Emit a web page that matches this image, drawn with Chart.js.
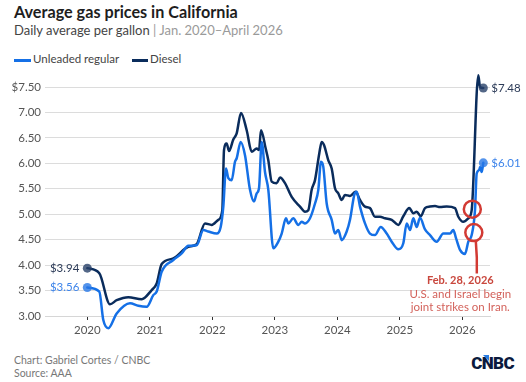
<!DOCTYPE html>
<html>
<head>
<meta charset="utf-8">
<script src="https://cdn.jsdelivr.net/npm/chart.js@4/dist/chart.umd.min.js"></script>
<style>
  html,body{margin:0;padding:0;background:#fff;}
  body{width:526px;height:382px;position:relative;overflow:hidden;font-family:Lato,"Open Sans",sans-serif;}
  #title{position:absolute;left:14px;top:2px;font-weight:700;font-size:16.2px;color:#1e1e1e;white-space:nowrap;}
  #subtitle{position:absolute;left:14px;top:22px;font-size:13px;color:#444;white-space:nowrap;}
  #subtitle span{color:#9a9a9a;}
  .lg-line{position:absolute;top:58.5px;height:3px;}
  .lg-text{position:absolute;top:52px;font-size:11.5px;color:#444;white-space:nowrap;}
  .foot{position:absolute;left:14px;font-size:10.5px;color:#777;white-space:nowrap;}
  #logo{position:absolute;right:12px;top:353px;font-family:Roboto,"Liberation Sans",sans-serif;font-weight:900;font-size:17px;letter-spacing:-0.6px;color:#0b1a3d;}
  #tri{position:absolute;left:483px;top:355px;width:0;height:0;border-top:6px solid #2a7de1;border-left:6px solid transparent;}
  canvas{position:absolute;left:0;top:0;}
</style>
</head>
<body>
<div id="title">Average gas prices in California</div>
<div id="subtitle">Daily average per gallon <span>| Jan. 2020–April 2026</span></div>
<div class="lg-line" style="left:14px;width:17px;background:#1570e6;"></div>
<div class="lg-text" style="left:33px;">Unleaded regular</div>
<div class="lg-line" style="left:132px;width:16px;background:#0a2c5c;"></div>
<div class="lg-text" style="left:150px;">Diesel</div>
<div class="foot" style="top:354px;">Chart: Gabriel Cortes / CNBC</div>
<div class="foot" style="top:367px;">Source: AAA</div>
<div id="logo">CNBC</div>
<div id="tri"></div>
<canvas id="c" width="526" height="382"></canvas>
<script>
// ---- data (dates as decimal years) ----
const unleadedDates = [2020.000,2020.192,2020.256,2020.336,2020.470,2020.683,2020.816,2020.950,2021.056,2021.110,2021.190,2021.376,2021.510,2021.616,2021.750,2021.856,2021.936,2022.070,2022.134,2022.176,2022.219,2022.256,2022.310,2022.363,2022.390,2022.454,2022.523,2022.603,2022.667,2022.710,2022.747,2022.790,2022.843,2022.896,2022.976,2023.056,2023.110,2023.179,2023.216,2023.296,2023.376,2023.430,2023.483,2023.563,2023.643,2023.696,2023.739,2023.776,2023.830,2023.910,2023.963,2024.016,2024.070,2024.150,2024.203,2024.272,2024.310,2024.363,2024.443,2024.523,2024.603,2024.694,2024.790,2024.870,2024.976,2025.056,2025.110,2025.163,2025.216,2025.270,2025.323,2025.403,2025.483,2025.590,2025.696,2025.803,2025.856,2025.899,2025.963,2026.043,2026.096,2026.150,2026.203,2026.230,2026.272,2026.283,2026.310,2026.336];
const unleadedPrices = [3.56,3.48,2.92,2.76,3.05,3.25,3.20,3.18,3.41,3.48,3.87,4.10,4.23,4.38,4.39,4.69,4.66,4.62,4.75,5.15,5.90,5.71,5.67,6.03,6.10,6.42,6.16,5.48,5.25,5.41,5.51,6.42,5.83,5.48,4.33,4.46,4.62,4.92,4.82,4.92,4.79,4.85,4.82,4.92,5.21,5.48,6.03,5.93,5.21,4.89,4.62,4.69,4.49,4.66,4.89,5.38,5.44,5.15,4.82,4.62,4.59,4.75,4.62,4.46,4.31,4.43,4.82,4.69,4.92,4.75,4.93,4.70,4.59,4.46,4.62,4.62,4.69,4.53,4.30,4.22,4.46,4.59,5.08,5.80,5.87,5.93,5.83,6.01];
const dieselDates = [2020.000,2020.192,2020.363,2020.470,2020.656,2020.870,2021.030,2021.110,2021.190,2021.376,2021.616,2021.750,2021.883,2021.990,2022.096,2022.160,2022.187,2022.230,2022.267,2022.336,2022.390,2022.459,2022.550,2022.630,2022.710,2022.747,2022.779,2022.856,2022.896,2022.950,2023.030,2023.083,2023.163,2023.270,2023.403,2023.483,2023.536,2023.590,2023.643,2023.712,2023.750,2023.787,2023.856,2023.910,2023.963,2024.016,2024.070,2024.123,2024.203,2024.294,2024.363,2024.443,2024.523,2024.603,2024.683,2024.763,2024.870,2024.976,2025.056,2025.152,2025.216,2025.270,2025.334,2025.403,2025.483,2025.563,2025.643,2025.750,2025.883,2025.936,2026.016,2026.096,2026.150,2026.256,2026.283,2026.336];
const dieselPrices = [3.94,3.84,3.23,3.31,3.37,3.33,3.51,3.64,4.02,4.13,4.36,4.41,4.82,4.79,4.89,5.08,6.26,6.39,6.24,6.47,6.59,6.99,6.65,6.23,6.29,6.26,6.65,6.28,6.06,5.64,5.61,5.72,5.61,5.34,5.15,5.05,5.08,5.48,5.67,6.20,6.42,6.36,6.06,5.90,5.51,5.41,5.28,5.38,5.36,5.44,5.28,5.15,5.12,4.95,4.95,4.92,4.89,4.79,4.96,5.12,5.02,5.05,4.96,5.12,5.15,5.16,5.14,5.15,5.12,4.95,4.85,4.92,5.08,7.73,7.50,7.48];
const yearTicks = [2020,2021,2022,2023,2024,2025,2026];
const priceTicks = [3,3.5,4,4.5,5,5.5,6,6.5,7,7.5];
const seriesNames = ["Unleaded regular","Diesel"];
const eventDate = 2026.16;
const eventValues = [5.10, 4.64];
const eventTitle = "Feb. 28, 2026";
const eventLines = ["U.S. and Israel begin","joint strikes on Iran."];

const BLUE = '#1570e6', NAVY = '#0a2c5c';

function pts(xs, ys){ return xs.map((x,i)=>({x:x,y:ys[i]})); }
function endRadii(n){ return Array.from({length:n},(_,i)=> (i===0||i===n-1)?4.5:0); }

const labelPlugin = {
  id:'labels',
  afterDatasetsDraw(chart){
    const ctx = chart.ctx;
    const xs = chart.scales.x, ys = chart.scales.y;
    ctx.save();
    const info = [
      {ds:0, color:'#3d84ea', vals:unleadedPrices},
      {ds:1, color:'#2b3a57', vals:dieselPrices}
    ];
    ctx.font = '11.5px Lato, "Open Sans", sans-serif';
    ctx.textBaseline = 'middle';
    info.forEach(o=>{
      const meta = chart.getDatasetMeta(o.ds);
      const first = meta.data[0], last = meta.data[meta.data.length-1];
      ctx.fillStyle = o.color;
      ctx.textAlign = 'right';
      ctx.fillText('$'+o.vals[0].toFixed(2), first.x-8, first.y);
      ctx.textAlign = 'left';
      ctx.fillText('$'+o.vals[o.vals.length-1].toFixed(2), last.x+8, last.y);
    });
    const ex = xs.getPixelForValue(eventDate);
    const c1 = ys.getPixelForValue(eventValues[0]);
    const c2 = ys.getPixelForValue(eventValues[1]);
    ctx.strokeStyle = '#d23a33';
    ctx.lineWidth = 2.5;
    ctx.beginPath(); ctx.arc(ex, c1, 8.5, 0, Math.PI*2); ctx.stroke();
    ctx.beginPath(); ctx.arc(ex+1.5, c2, 8.5, 0, Math.PI*2); ctx.stroke();
    ctx.beginPath();
    ctx.moveTo(ex+3.5, c2+8.5);
    ctx.quadraticCurveTo(ex+5, c2+25, ex+4.5, c2+41);
    ctx.stroke();
    ctx.textAlign = 'center';
    ctx.fillStyle = '#c9473d';
    ctx.font = 'bold 11px Lato, "Open Sans", sans-serif';
    ctx.fillText(eventTitle, ex-12, c2+48);
    ctx.fillStyle = '#d3625b';
    ctx.font = '11.5px Lato, "Open Sans", sans-serif';
    ctx.fillText(eventLines[0], ex-12, c2+61.5);
    ctx.fillText(eventLines[1], ex-12, c2+75);
    ctx.restore();
  }
};

new Chart(document.getElementById('c'), {
  type:'line',
  data:{
    datasets:[
      {label:seriesNames[0], data:pts(unleadedDates, unleadedPrices), borderColor:BLUE, borderWidth:2.5,
       pointRadius:endRadii(unleadedPrices.length), pointBackgroundColor:'rgba(40,120,230,0.8)', pointBorderWidth:0,
       cubicInterpolationMode:'monotone', clip:false},
      {label:seriesNames[1], data:pts(dieselDates, dieselPrices), borderColor:NAVY, borderWidth:2.5,
       pointRadius:endRadii(dieselPrices.length), pointBackgroundColor:'rgba(40,65,105,0.8)', pointBorderWidth:0,
       cubicInterpolationMode:'monotone', clip:false}
    ]
  },
  options:{
    responsive:false, animation:false, devicePixelRatio:1,
    layout:{padding:{left:0,top:87,right:36,bottom:42}},
    plugins:{legend:{display:false}, tooltip:{enabled:false}},
    elements:{line:{borderJoinStyle:'round', borderCapStyle:'round'}},
    scales:{
      x:{type:'linear', min:2019.323, max:2026.443,
         afterBuildTicks:s=>{s.ticks = yearTicks.map(v=>({value:v}));},
         afterFit:s=>{s.height=24;},
         ticks:{callback:v=>String(v), color:'#555', font:{family:'Lato, "Open Sans", sans-serif', size:11.5}, padding:3, maxRotation:0, autoSkip:false},
         grid:{drawOnChartArea:false, drawTicks:true, tickLength:4, tickColor:'#333', tickWidth:1},
         border:{display:true, color:'#d6d6d6', width:1}},
      y:{min:3, max:7.5,
         afterBuildTicks:s=>{s.ticks = priceTicks.map(v=>({value:v}));},
         afterFit:s=>{s.width=45;},
         ticks:{callback:v=> (v===7.5?'$7.50':v.toFixed(2)), color:'#555', font:{family:'Lato, "Open Sans", sans-serif', size:11.5}, padding:4},
         grid:{color:'#dcdcdc', drawTicks:false, lineWidth:1},
         border:{display:false}}
    }
  },
  plugins:[labelPlugin]
});
</script>
</body>
</html>
